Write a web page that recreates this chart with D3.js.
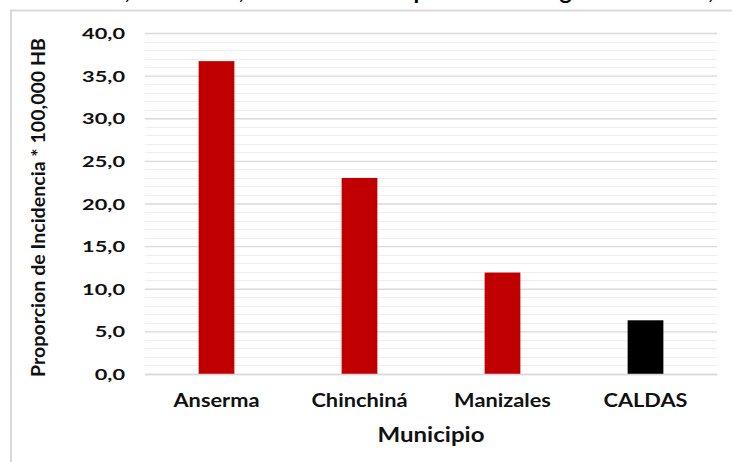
<!DOCTYPE html>
<html>
<head>
<meta charset="utf-8">
<script src="https://cdn.jsdelivr.net/npm/d3@7"></script>
<style>
  html, body { margin: 0; padding: 0; background: #fff; }
  svg { display: block; font-family: Lato, "Open Sans", sans-serif; }
</style>
</head>
<body>
<svg id="chart" width="732" height="462"></svg>
<script>
// Incidence per 100,000 inhabitants by municipality
const categories = ["Anserma", "Chinchiná", "Manizales", "CALDAS"];
const values = [36.7, 23.0, 11.9, 6.3];
const barColors = ["#c00000", "#c00000", "#c00000", "#000000"];
const yTicks = [0, 5, 10, 15, 20, 25, 30, 35, 40];
const titleText = "Tuberculosis, Chinchiná, Incidencia total por 100 mil según residencia, 2018";
const yAxisTitle = "Proporcion de Incidencia * 100,000 HB";
const xAxisTitle = "Municipio";

const svg = d3.select("#chart");
const plot = { left: 145, right: 717, top: 33, bottom: 374 };

svg.append("rect").attr("width", 732).attr("height", 462).attr("fill", "#fff");

// widen a text horizontally about its anchor point
function widen(sel, factor, anchorX) {
  sel.attr("x", 0).attr("transform", `translate(${anchorX},0) scale(${factor},1)`);
}

// title (runs past the top edge of the canvas); first comma sits at x=125, last at x=709
const title = svg.append("text")
  .attr("x", 0).attr("y", -1)
  .attr("font-size", 22).attr("font-weight", 700).attr("fill", "#000")
  .text(titleText);
{
  const node = title.node();
  const c1 = titleText.indexOf(",");
  const c3 = titleText.lastIndexOf(",");
  const p1 = node.getStartPositionOfChar(c1).x;
  const p3 = node.getStartPositionOfChar(c3).x;
  const s = (709 - 125) / (p3 - p1);
  title.attr("transform", `translate(${125 - p1 * s},0) scale(${s},1)`);
}

// chart frame
svg.append("path")
  .attr("d", "M11,470 V10.5 H740")
  .attr("fill", "none").attr("stroke", "#d9d9d9").attr("stroke-width", 2);

const y = d3.scaleLinear().domain([0, 40]).range([plot.bottom, plot.top]);
const x = d3.scaleBand().domain(categories)
  .range([plot.left, plot.right]).paddingInner(0.75).paddingOuter(0.375);

// minor gridlines at every unit
svg.append("g").selectAll("line")
  .data(d3.range(0, 41).filter(v => v % 5 !== 0))
  .join("line")
  .attr("x1", plot.left).attr("x2", plot.right)
  .attr("y1", d => Math.round(y(d)) + 0.5).attr("y2", d => Math.round(y(d)) + 0.5)
  .attr("stroke", "#eeeeee").attr("stroke-width", 1);

// major gridlines + labels via d3 axis
const yAxis = d3.axisLeft(y).tickValues(yTicks)
  .tickFormat(d => d3.format(".1f")(d).replace(".", ","))
  .tickSize(-(plot.right - plot.left)).tickPadding(20);
const gy = svg.append("g").attr("transform", `translate(${plot.left},0)`).call(yAxis);
gy.select(".domain").remove();
gy.selectAll(".tick line").attr("stroke", "#d9d9d9").attr("stroke-width", 1.3);
const yLabels = gy.selectAll(".tick text")
  .attr("font-family", "Lato, sans-serif")
  .attr("font-size", 15.5).attr("font-weight", 700).attr("fill", "#111")
  .attr("dy", "0.36em");
{
  const top = yLabels.filter(d => d === 40).node().getComputedTextLength();
  widen(yLabels, 43 / top, -20);
}

// bars
svg.append("g").selectAll("rect")
  .data(categories)
  .join("rect")
  .attr("x", d => x(d))
  .attr("width", x.bandwidth())
  .attr("y", (d, i) => y(values[i]))
  .attr("height", (d, i) => y(0) - y(values[i]))
  .attr("fill", (d, i) => barColors[i]);

// category axis
const xAxis = d3.axisBottom(x).tickSize(0).tickPadding(20);
const gx = svg.append("g").attr("transform", `translate(0,${plot.bottom})`).call(xAxis);
gx.select(".domain").attr("stroke", "#d9d9d9").attr("stroke-width", 1.3);
const xLabels = gx.selectAll(".tick text")
  .attr("font-family", "Lato, sans-serif")
  .attr("font-size", 19).attr("font-weight", 700).attr("fill", "#111");
{
  const w = xLabels.filter(d => d === "Anserma").node().getComputedTextLength();
  widen(xLabels, 86 / w, 0);
}

// axis titles
const xt = svg.append("text")
  .attr("y", 442)
  .attr("text-anchor", "middle")
  .attr("font-size", 20).attr("font-weight", 700).attr("fill", "#111")
  .text(xAxisTitle);
widen(xt, 107 / xt.node().getComputedTextLength(), (plot.left + plot.right) / 2);

svg.append("text")
  .attr("transform", "translate(45,207.5) rotate(-90)")
  .attr("text-anchor", "middle")
  .attr("font-size", 18).attr("font-weight", 700).attr("fill", "#111")
  .attr("textLength", 339).attr("lengthAdjust", "spacingAndGlyphs")
  .text(yAxisTitle);
</script>
</body>
</html>
